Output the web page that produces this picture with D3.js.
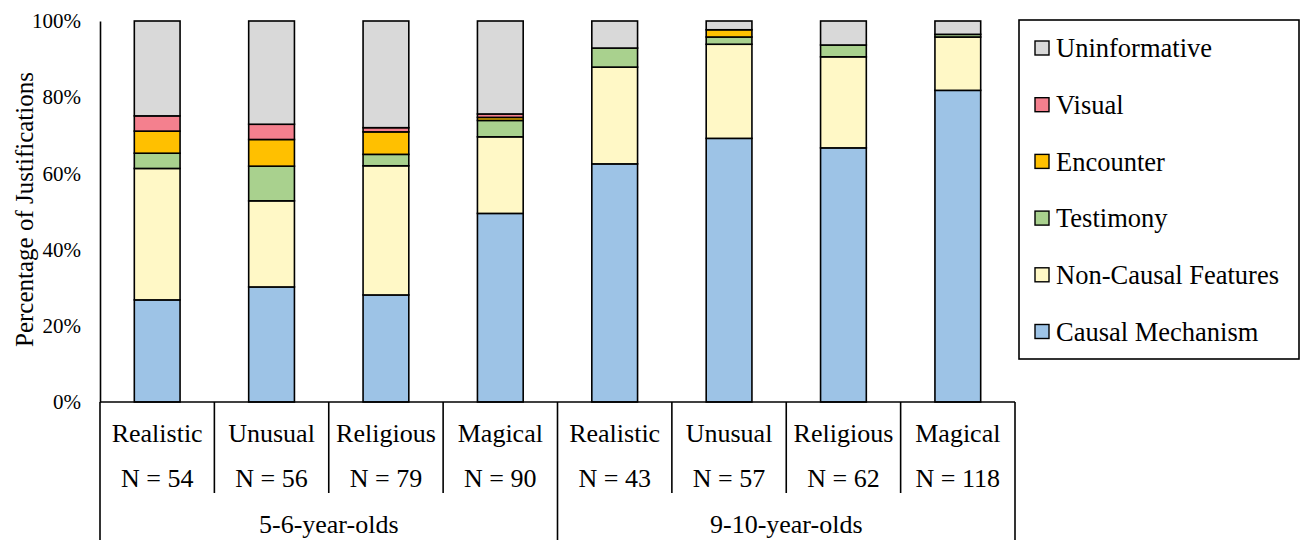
<!DOCTYPE html>
<html>
<head>
<meta charset="utf-8">
<script src="https://cdn.jsdelivr.net/npm/d3@7"></script>
</head>
<body style="margin:0">
<svg id="chart" width="1301" height="540" font-family="Liberation Serif, serif"></svg>
<script>
// Story types and sample sizes for each age group
const categories = ["Realistic", "Unusual", "Religious", "Magical", "Realistic", "Unusual", "Religious", "Magical"];
const sampleSizes = ["N = 54", "N = 56", "N = 79", "N = 90", "N = 43", "N = 57", "N = 62", "N = 118"];
const groups = ["5-6-year-olds", "9-10-year-olds"];

// Justification types, stacked from the bottom up
const seriesNames = ["Causal Mechanism", "Non-Causal Features", "Testimony", "Encounter", "Visual", "Uninformative"];
const seriesColors = ["#9DC3E6", "#FFF8C6", "#A9D18E", "#FFC000", "#F4808E", "#D9D9D9"];

// Percentage of justifications per story type
const causalMechanism   = [26.8, 30.2, 28.1, 49.5, 62.5, 69.2, 66.7, 81.8];
const nonCausalFeatures = [34.5, 22.6, 33.9, 20.1, 25.4, 24.7, 23.9, 14.0];
const testimony         = [ 4.0,  9.1,  3.0,  4.3,  5.0,  1.9,  3.1,  0.7];
const encounter         = [ 5.8,  7.0,  5.9,  0.8,  0.0,  1.9,  0.0,  0.0];
const visual            = [ 4.0,  4.0,  1.1,  0.9,  0.0,  0.0,  0.0,  0.0];
const uninformative     = [24.9, 27.1, 28.0, 24.4,  7.1,  2.3,  6.3,  3.5];

const yTicks = [0, 20, 40, 60, 80, 100];

const seriesValues = [causalMechanism, nonCausalFeatures, testimony, encounter, visual, uninformative];

const fontNames = ["Liberation Serif"];
const fontOf = () => `'${fontNames[0]}'`;

const svg = d3.select("#chart");
const plot = { left: 100, right: 1015, top: 21, bottom: 402 };

const x = d3.scaleBand()
  .domain(d3.range(categories.length))
  .range([plot.left, plot.right])
  .paddingInner(0.6)
  .paddingOuter(0.3);

const y = d3.scaleLinear().domain([0, 100]).range([plot.bottom, plot.top]);

// Build rows for the stack layout
const rows = categories.map((c, i) => {
  const r = { idx: i };
  seriesNames.forEach((s, k) => { r[s] = seriesValues[k][i]; });
  return r;
});
const stacked = d3.stack().keys(seriesNames)(rows);

// Bars
const layers = svg.append("g").selectAll("g")
  .data(stacked)
  .join("g")
  .attr("fill", (d, k) => seriesColors[k]);

layers.selectAll("rect")
  .data(d => d.filter(p => p[1] - p[0] > 0))
  .join("rect")
  .attr("x", p => x(p.data.idx))
  .attr("width", x.bandwidth())
  .attr("y", p => y(p[1]))
  .attr("height", p => y(p[0]) - y(p[1]))
  .attr("stroke", "#000")
  .attr("stroke-width", 1.6);

// Y axis
const yAxis = d3.axisLeft(y)
  .tickValues(yTicks)
  .tickFormat(d => d + "%")
  .tickSizeInner(0)
  .tickSizeOuter(0)
  .tickPadding(19);

const yg = svg.append("g")
  .attr("transform", `translate(${plot.left},0)`)
  .call(yAxis)
  .attr("font-family", null)
  .attr("font-size", null);
yg.select(".domain").attr("stroke", "#000").attr("stroke-width", 1.6);
yg.selectAll("text")
  .style("font-family", fontOf)
  .attr("font-size", 21)
  .attr("fill", "#000");

// Y axis title
svg.append("text")
  .attr("transform", `translate(24, ${(plot.top + plot.bottom) / 2 - 2}) rotate(-90)`)
  .attr("text-anchor", "middle")
  .attr("dy", "0.35em")
  .style("font-family", fontOf)
  .attr("font-size", 25)
  .attr("fill", "#000")
  .text("Percentage of Justifications");

// X axis line and multi-level category grid
const step = x.step();
svg.append("line")
  .attr("x1", plot.left).attr("x2", plot.right)
  .attr("y1", plot.bottom).attr("y2", plot.bottom)
  .attr("stroke", "#000").attr("stroke-width", 1.6);

const boundaries = d3.range(categories.length + 1);
svg.append("g").selectAll("line")
  .data(boundaries)
  .join("line")
  .attr("x1", i => plot.left + i * step)
  .attr("x2", i => plot.left + i * step)
  .attr("y1", plot.bottom)
  .attr("y2", i => (i % 4 === 0) ? 540 : 493)
  .attr("stroke", "#000")
  .attr("stroke-width", 1.6);

const cx = i => x(i) + x.bandwidth() / 2;

// Texts are appended straight onto the svg root
function labelRow(data, xf, yPos) {
  svg.selectAll(null)
    .data(data)
    .join("text")
    .attr("x", xf)
    .attr("y", yPos)
    .attr("dy", "0.35em")
    .attr("text-anchor", "middle")
    .style("font-family", fontOf)
    .attr("font-size", 26)
    .text(d => d);
}

labelRow(categories, (d, i) => cx(i), 433);
labelRow(sampleSizes, (d, i) => cx(i), 478);
labelRow(groups, (d, g) => plot.left + (g * 4 + 2) * step, 524);

// Legend
svg.append("rect")
  .attr("x", 1019).attr("y", 20)
  .attr("width", 280).attr("height", 339)
  .attr("fill", "#fff")
  .attr("stroke", "#000")
  .attr("stroke-width", 1.6);

const legendOrder = seriesNames.map((s, k) => k).reverse();

svg.selectAll(null)
  .data(legendOrder)
  .join("rect")
  .attr("x", 1035)
  .attr("y", (k, j) => 48 + j * 56.7 - 7)
  .attr("width", 14).attr("height", 14)
  .attr("fill", k => seriesColors[k])
  .attr("stroke", "#000")
  .attr("stroke-width", 1.4);

svg.selectAll(null)
  .data(legendOrder)
  .join("text")
  .attr("x", 1056)
  .attr("y", (k, j) => 48 + j * 56.7)
  .attr("dy", "0.35em")
  .style("font-family", fontOf)
  .attr("font-size", 26.5)
  .text(k => seriesNames[k]);
</script>
</body>
</html>
